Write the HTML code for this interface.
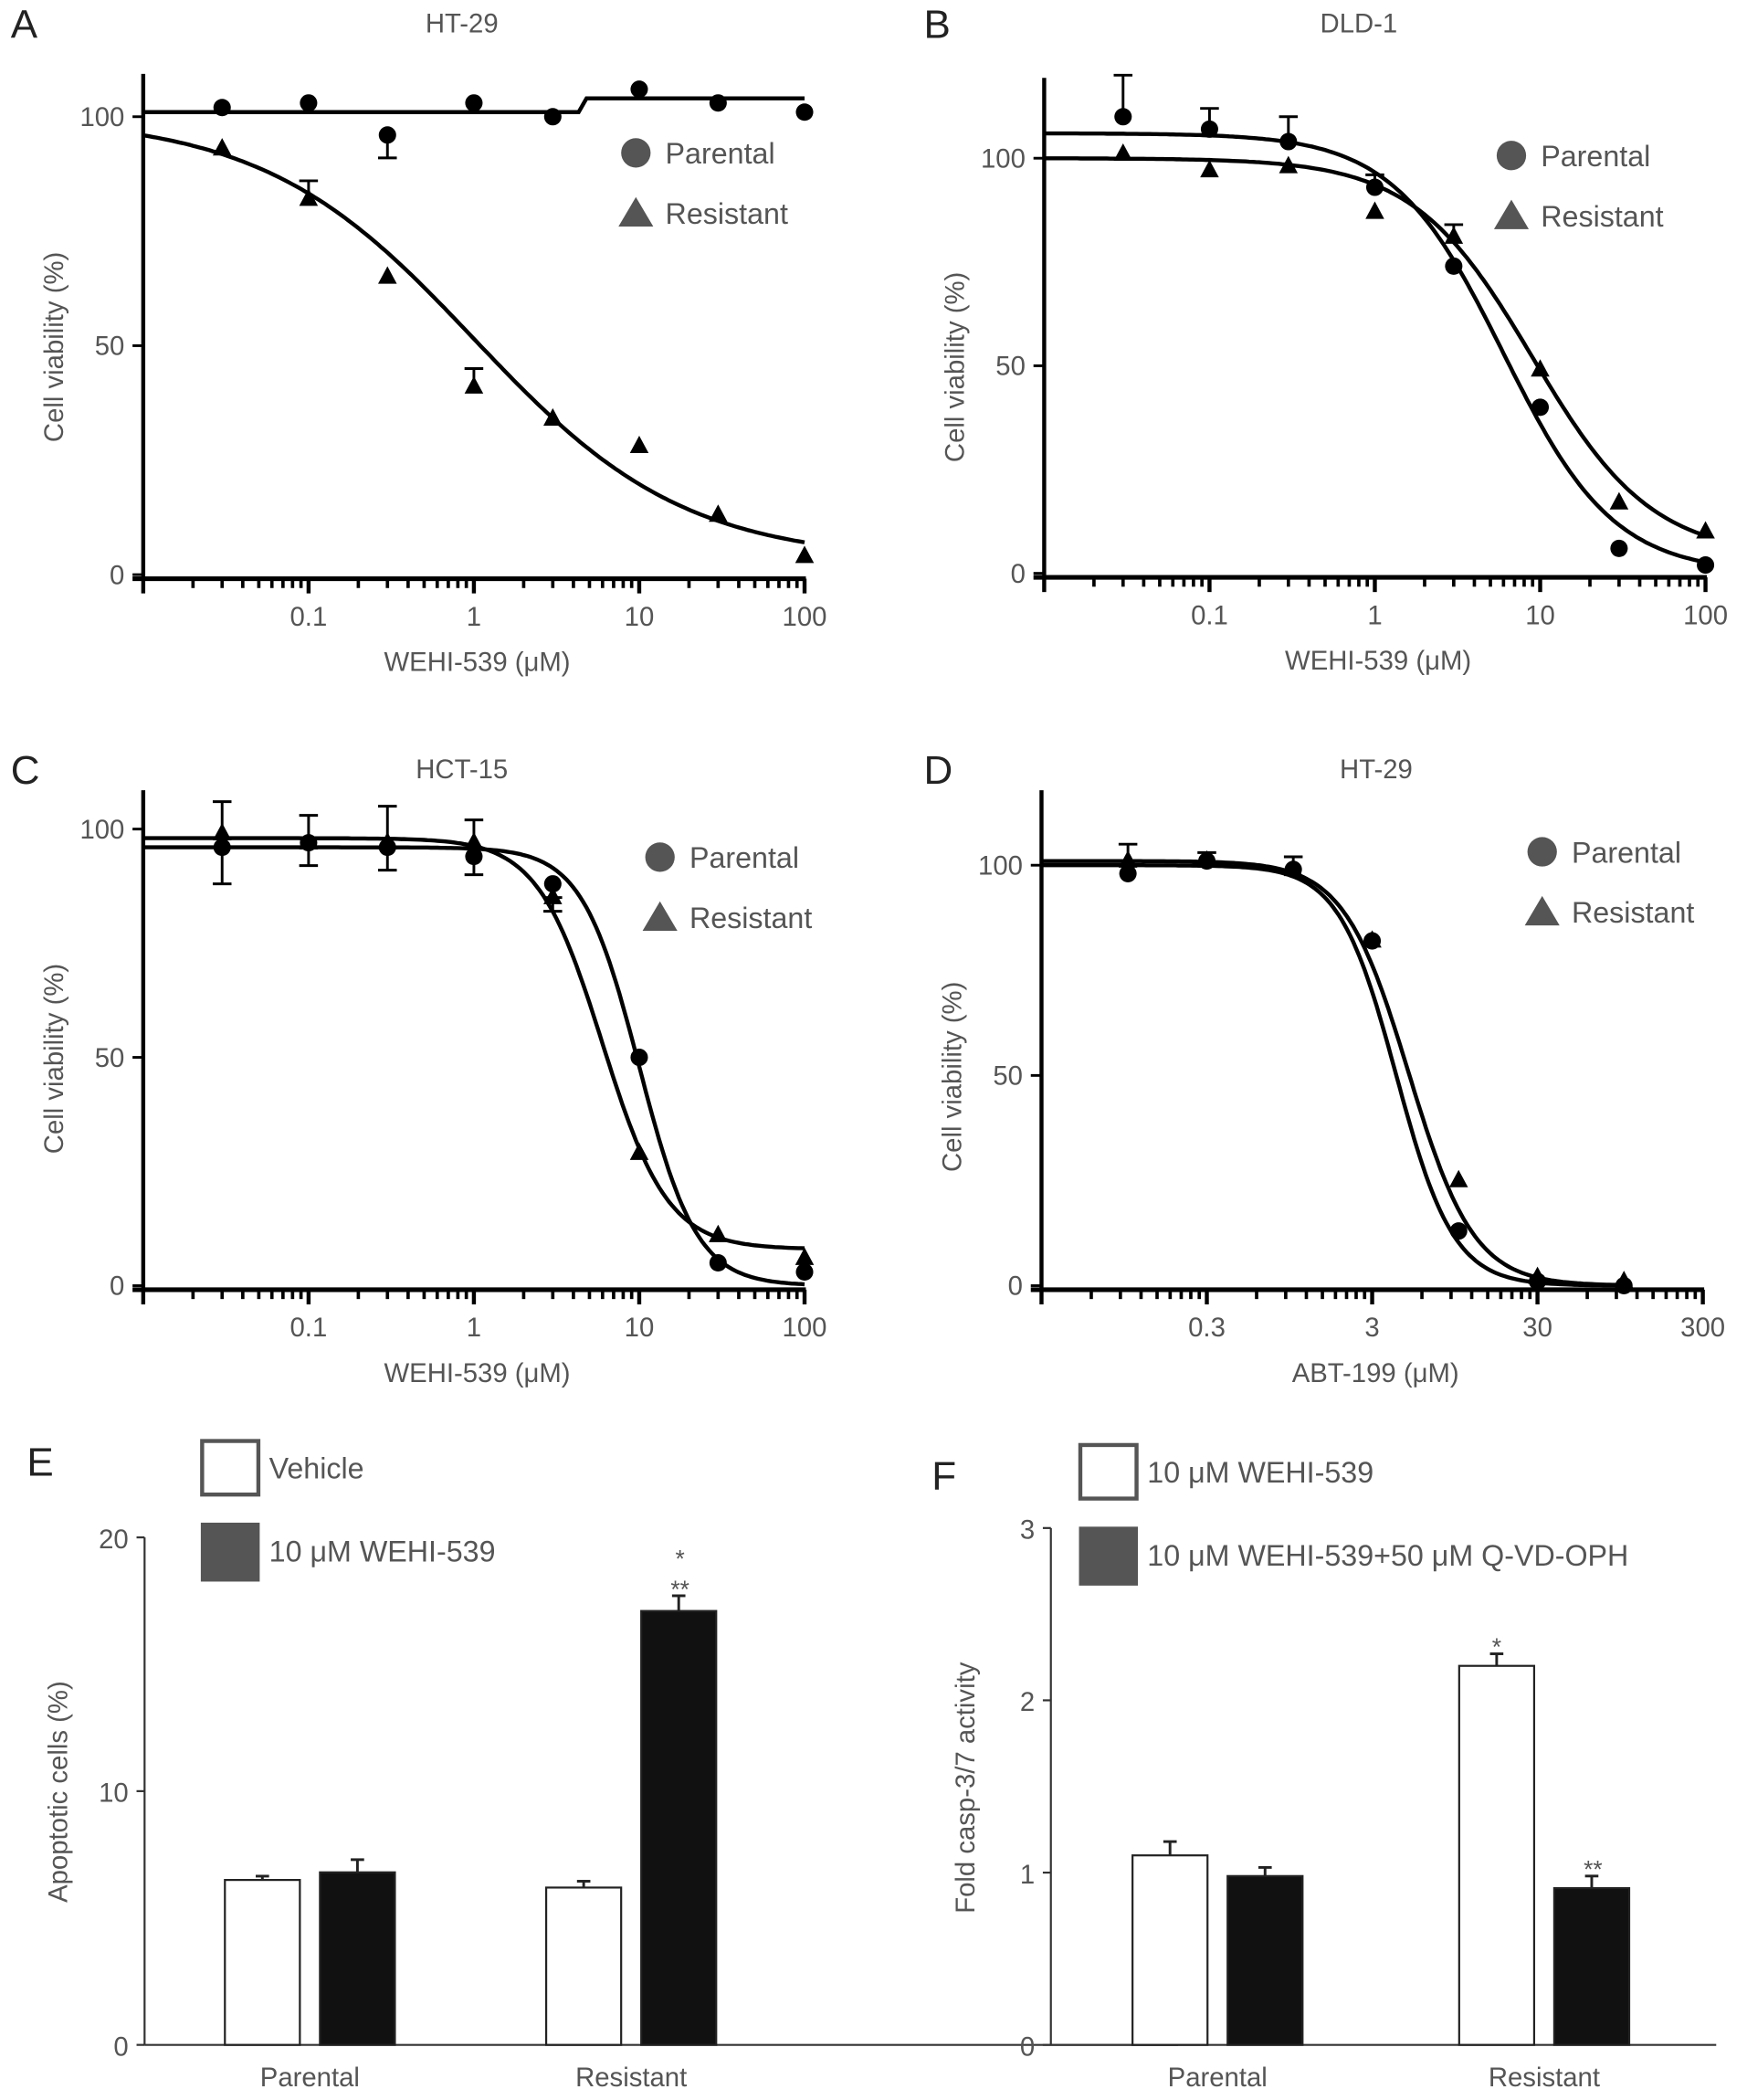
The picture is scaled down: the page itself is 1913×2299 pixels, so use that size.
<!DOCTYPE html>
<html><head><meta charset="utf-8"><style>
html,body{margin:0;padding:0;background:#fff}
svg{display:block}
text{font-family:"Liberation Sans",sans-serif;fill:#555}
</style></head><body>
<svg id="fig" width="1913" height="2299" viewBox="0 0 1305 1568" xmlns="http://www.w3.org/2000/svg"></svg>
<script>
// ---- Panel A data (HT-29, WEHI-539)
const aX=[0.03,0.1,0.3,1,3,10,30,100];
const aParY=[102,103,96,103,100,106,103,101];
const aParErr=[0,0,-5,0,0,0,0,0];
const aResY=[93,82,65,41,34,28,13,4];
const aResErr=[0,4,0,4,0,0,0,0];
const aParFitX=[0.01,4.3,4.8,100];
const aParFitY=[101,101,104,104];
const aResFit=[100,3,1.0,0.68];
// ---- Panel B data (DLD-1)
const bX=[0.03,0.1,0.3,1,3,10,30,100];
const bParY=[110,107,104,93,74,40,6,2];
const bParErr=[10,5,6,3,0,0,0,0];
const bResY=[101,97,98,87,81,49,17,10];
const bResErr=[0,0,0,0,3,0,0,0];
const bParFit=[106,0,6,1.3];
const bResFit=[100,4,9,1.2];
// ---- Panel C data (HCT-15)
const cX=[0.03,0.1,0.3,1,3,10,30,100];
const cParY=[96,97,96,94,88,50,5,3];
const cParErr=[-8,-5,-5,-4,-3,0,0,0];
const cResY=[99,97,97,97,85,29,11,6];
const cResErr=[7,6,8,5,-3,0,0,0];
const cParFit=[96,0,10,2.5];
const cResFit=[98,8,6,2.2];
// ---- Panel D data (HT-29, ABT-199)
const dX=[0.1,0.3,1,3,10,30,100];
const dParY=[98,101,99,82,13,1,0];
const dParErr=[0,0,0,0,0,0,0];
const dResY=[101,101,99,82,25,2,1];
const dResErr=[4,2,3,0,0,0,0];
const dParFit=[100,0,4.2,2.5];
const dResFit=[101,0,5,2.2];
// ---- Panel E data
const eCats=["Parental","Resistant"];
const eVeh=[6.5,6.2];
const eVehErr=[0.15,0.25];
const eWehi=[6.8,17.1];
const eWehiErr=[0.5,0.6];
const eTicks=[0,10,20];
// ---- Panel F data
const fCats=["Parental","Resistant"];
const fWehi=[1.1,2.2];
const fWehiErr=[0.08,0.07];
const fQvd=[0.98,0.91];
const fQvdErr=[0.05,0.07];
const fTicks=[0,1,2,3];

const NS="http://www.w3.org/2000/svg";
const svg=document.getElementById('fig');
function mk(tag,attrs,parent){const e=document.createElementNS(NS,tag);for(const k in attrs)e.setAttribute(k,attrs[k]);(parent||svg).appendChild(e);return e;}
function txt(s,x,y,size,anchor,parent,extra){const t=mk('text',Object.assign({x:x,y:y,'font-size':size,'text-anchor':anchor||'middle'},extra||{}),parent);t.textContent=s;return t;}
function logistic(p,x){return p[1]+(p[0]-p[1])/(1+Math.pow(x/p[2],p[3]));}

function linePanel(o){
  const g=mk('g',{});
  
  
  const sx=v=>o.ax+Math.log10(v/o.xmin)*o.dec;
  const sy=v=>o.y0+(o.y100-o.y0)*v/100;
  const lt=txt(o.letter,o.lx,o.ly,30,'start',g,{style:'fill:#222'});
  
  
  const tt=txt(o.title,o.tx,o.ly-4,20,'middle',g);
  
  
  const yl=mk('line',{x1:o.ax,y1:o.ytop,x2:o.ax,y2:o.y0+3,stroke:'#000','stroke-width':3},g);
  
  
  const xend=sx(o.xmax);
  const xl=mk('line',{x1:o.ax-8,y1:o.y0+3,x2:xend+1,y2:o.y0+3,stroke:'#000','stroke-width':3.5},g);
  
  
  [0,50,100].forEach(v=>{
    mk('line',{x1:o.ax-8,y1:sy(v),x2:o.ax,y2:sy(v),stroke:'#000','stroke-width':2},g);
    const t=txt(String(v),o.ax-14,sy(v)+7,20,'end',g);
    
    
  });
  for(let i=0;;i++){
    const b=o.xmin*Math.pow(10,i);
    if(b>o.xmax*1.0001)break;
    for(let k=1;k<=9;k++){
      const v=b*k; if(v>o.xmax*1.0001)break;
      const x=sx(v);
      mk('line',{x1:x,y1:o.y0+3,x2:x,y2:o.y0+(k==1?14:10),stroke:'#000','stroke-width':k==1?3:2.5},g);
      if(k==1&&i>=1){
        const t=txt(o.tickLabels[i-1],x,o.y0+38,20,'middle',g);
        
        
      }
    }
  }
  const xt=txt(o.xlabel,sx(o.xmin*Math.pow(10,2.02)),o.y0+72,20,'middle',g);
  
  
  const yc=(o.y0+o.y100)/2+1;
  const yt=txt('Cell viability (%)',0,0,20,'middle',g,{transform:`translate(${o.ax-60},${yc}) rotate(-90)`});
  
  
  o.fits.forEach(f=>{
    let pts=[];
    if(f.px){for(let i=0;i<f.px.length;i++)pts.push(sx(f.px[i])+','+sy(f.py[i]));}
    else{const n=200;const l0=Math.log10(o.xmin),l1=Math.log10(f.end||o.xmax);for(let i=0;i<=n;i++){const v=Math.pow(10,l0+(l1-l0)*i/n);pts.push(sx(v).toFixed(1)+','+sy(logistic(f.p,v)).toFixed(1));}}
    const pl=mk('polyline',{points:pts.join(' '),fill:'none',stroke:'#000','stroke-width':3},g);
    
    
  });
  o.series.forEach(s=>{
    s.x.forEach((xv,i)=>{
      const cx=sx(xv),cy=sy(s.y[i]);
      if(s.err[i]){
        const ey=sy(s.y[i]+s.err[i]);
        mk('line',{x1:cx,y1:cy,x2:cx,y2:ey,stroke:'#000','stroke-width':2},g);
        mk('line',{x1:cx-7,y1:ey,x2:cx+7,y2:ey,stroke:'#000','stroke-width':2},g);
      }
      let m;
      if(s.shape=='c'){m=mk('circle',{cx:cx,cy:cy,r:6.5,fill:'#000'},g);}
      else{m=mk('polygon',{points:`${cx},${cy-8} ${cx-7},${cy+5} ${cx+7},${cy+5}`,fill:'#000'},g);}
      
      
    });
  });
  const lg=mk('g',{},g);
  
  
  mk('circle',{cx:o.legx,cy:o.legy,r:11,fill:'#555'},lg);
  txt('Parental',o.legx+22,o.legy+8,22,'start',lg);
  mk('polygon',{points:`${o.legx},${o.legy+33} ${o.legx-13},${o.legy+55} ${o.legx+13},${o.legy+55}`,fill:'#555'},lg);
  txt('Resistant',o.legx+22,o.legy+53,22,'start',lg);
}

linePanel({name:'panel-a',letter:'A',lx:8,ly:28,title:'HT-29',tx:345,ax:107,ytop:55,y0:429,y100:87,xmin:0.01,xmax:100,dec:123.5,
  tickLabels:['0.1','1','10','100'],xlabel:'WEHI-539 (\u03bcM)',legx:475,legy:114,
  fits:[{name:'parental-fit',px:aParFitX,py:aParFitY},{name:'resistant-fit',p:aResFit}],
  series:[{name:'parental',shape:'c',x:aX,y:aParY,err:aParErr},{name:'resistant',shape:'t',x:aX,y:aResY,err:aResErr}]});
linePanel({name:'panel-b',letter:'B',lx:690,ly:28,title:'DLD-1',tx:1015,ax:780,ytop:58,y0:428,y100:118,xmin:0.01,xmax:100,dec:123.5,
  tickLabels:['0.1','1','10','100'],xlabel:'WEHI-539 (\u03bcM)',legx:1129,legy:116,
  fits:[{name:'parental-fit',p:bParFit},{name:'resistant-fit',p:bResFit}],
  series:[{name:'parental',shape:'c',x:bX,y:bParY,err:bParErr},{name:'resistant',shape:'t',x:bX,y:bResY,err:bResErr}]});
linePanel({name:'panel-c',letter:'C',lx:8,ly:585,title:'HCT-15',tx:345,ax:107,ytop:590,y0:960,y100:619,xmin:0.01,xmax:100,dec:123.5,
  tickLabels:['0.1','1','10','100'],xlabel:'WEHI-539 (\u03bcM)',legx:493,legy:640,
  fits:[{name:'parental-fit',p:cParFit},{name:'resistant-fit',p:cResFit}],
  series:[{name:'parental',shape:'c',x:cX,y:cParY,err:cParErr},{name:'resistant',shape:'t',x:cX,y:cResY,err:cResErr}]});
linePanel({name:'panel-d',letter:'D',lx:690,ly:585,title:'HT-29',tx:1028,ax:778,ytop:590,y0:960,y100:646,xmin:0.03,xmax:300,dec:123.5,
  tickLabels:['0.3','3','30','300'],xlabel:'ABT-199 (\u03bcM)',legx:1152,legy:636,
  fits:[{name:'parental-fit',p:dParFit,end:100},{name:'resistant-fit',p:dResFit,end:100}],
  series:[{name:'parental',shape:'c',x:dX,y:dParY,err:dParErr},{name:'resistant',shape:'t',x:dX,y:dResY,err:dResErr}]});

function barPanel(o){
  const g=mk('g',{});
  
  
  const sy=v=>o.y0-(o.y0-o.ytopv)*v/o.max;
  const lt=txt(o.letter,o.lx,o.ly,30,'start',g,{style:'fill:#222'});
  
  
  const ya=mk('line',{x1:o.ax,y1:sy(o.max),x2:o.ax,y2:o.y0,stroke:'#333','stroke-width':1.5},g);
  
  
  const xa=mk('line',{x1:o.ax,y1:o.y0,x2:o.xend,y2:o.y0,stroke:'#333','stroke-width':1.5},g);
  
  
  o.ticks.forEach(v=>{
    mk('line',{x1:o.ax-6,y1:sy(v),x2:o.ax,y2:sy(v),stroke:'#333','stroke-width':1.5},g);
    const t=txt(String(v),o.ax-12,sy(v)+8,20,'end',g);
    
    
  });
  const yt=txt(o.ylabel,0,0,20,'middle',g,{transform:`translate(${o.ylx},${o.ylc}) rotate(-90)`});
  
  
  o.cats.forEach((c,i)=>{
    const base=o.groupX[i];
    [[o.s1,o.e1,'#fff',0],[o.s2,o.e2,'#111',1]].forEach(([vals,errs,fill,j])=>{
      const x=base+j*o.step, top=sy(vals[i]), et=sy(vals[i]+errs[i]);
      mk('line',{x1:x+o.bw/2,y1:top,x2:x+o.bw/2,y2:et,stroke:'#222','stroke-width':2},g);
      mk('line',{x1:x+o.bw/2-5,y1:et,x2:x+o.bw/2+5,y2:et,stroke:'#222','stroke-width':2},g);
      const r=mk('rect',{x:x,y:top,width:o.bw,height:o.y0-top,fill:fill,stroke:'#222','stroke-width':1.5},g);
      
      
    });
    const cl=txt(c,base+o.step/2+o.bw/2,o.y0+31,20,'middle',g);
    
    
  });
  o.stars.forEach(s=>{const t=txt(s[0],s[1],s[2],18,'middle',g);
    
    });
  const lg=mk('g',{},g);
  
  
  mk('rect',{x:o.legx,y:o.legy,width:42,height:40,fill:'#fff',stroke:'#555','stroke-width':3},lg);
  txt(o.l1,o.legx+50,o.legy+28,22,'start',lg);
  mk('rect',{x:o.legx-1,y:o.legy+61,width:44,height:44,fill:'#555'},lg);
  txt(o.l2,o.legx+50,o.legy+90,22,'start',lg);
}
barPanel({name:'panel-e',letter:'E',lx:20,ly:1102,ax:108,y0:1527,ytopv:1148,max:20,ticks:eTicks,xend:880,
  ylabel:'Apoptotic cells (%)',ylx:50,ylc:1338,cats:eCats,groupX:[168,408],step:71,bw:56,
  s1:eVeh,e1:eVehErr,s2:eWehi,e2:eWehiErr,n1:'vehicle',n2:'wehi539',
  stars:[['*',508,1170],['**',508,1193]],legx:151,legy:1076,l1:'Vehicle',l2:'10 \u03bcM WEHI-539'});
barPanel({name:'panel-f',letter:'F',lx:696,ly:1112,ax:785,y0:1527,ytopv:1141,max:3,ticks:fTicks,xend:1282,
  ylabel:'Fold casp-3/7 activity',ylx:728,ylc:1335,cats:fCats,groupX:[846,1090],step:71,bw:56,
  s1:fWehi,e1:fWehiErr,s2:fQvd,e2:fQvdErr,n1:'wehi539',n2:'wehi539-qvd',
  stars:[['*',1118,1236],['**',1190,1402]],legx:807,legy:1079,l1:'10 \u03bcM WEHI-539',l2:'10 \u03bcM WEHI-539+50 \u03bcM Q-VD-OPH'});
</script>
</body></html>
